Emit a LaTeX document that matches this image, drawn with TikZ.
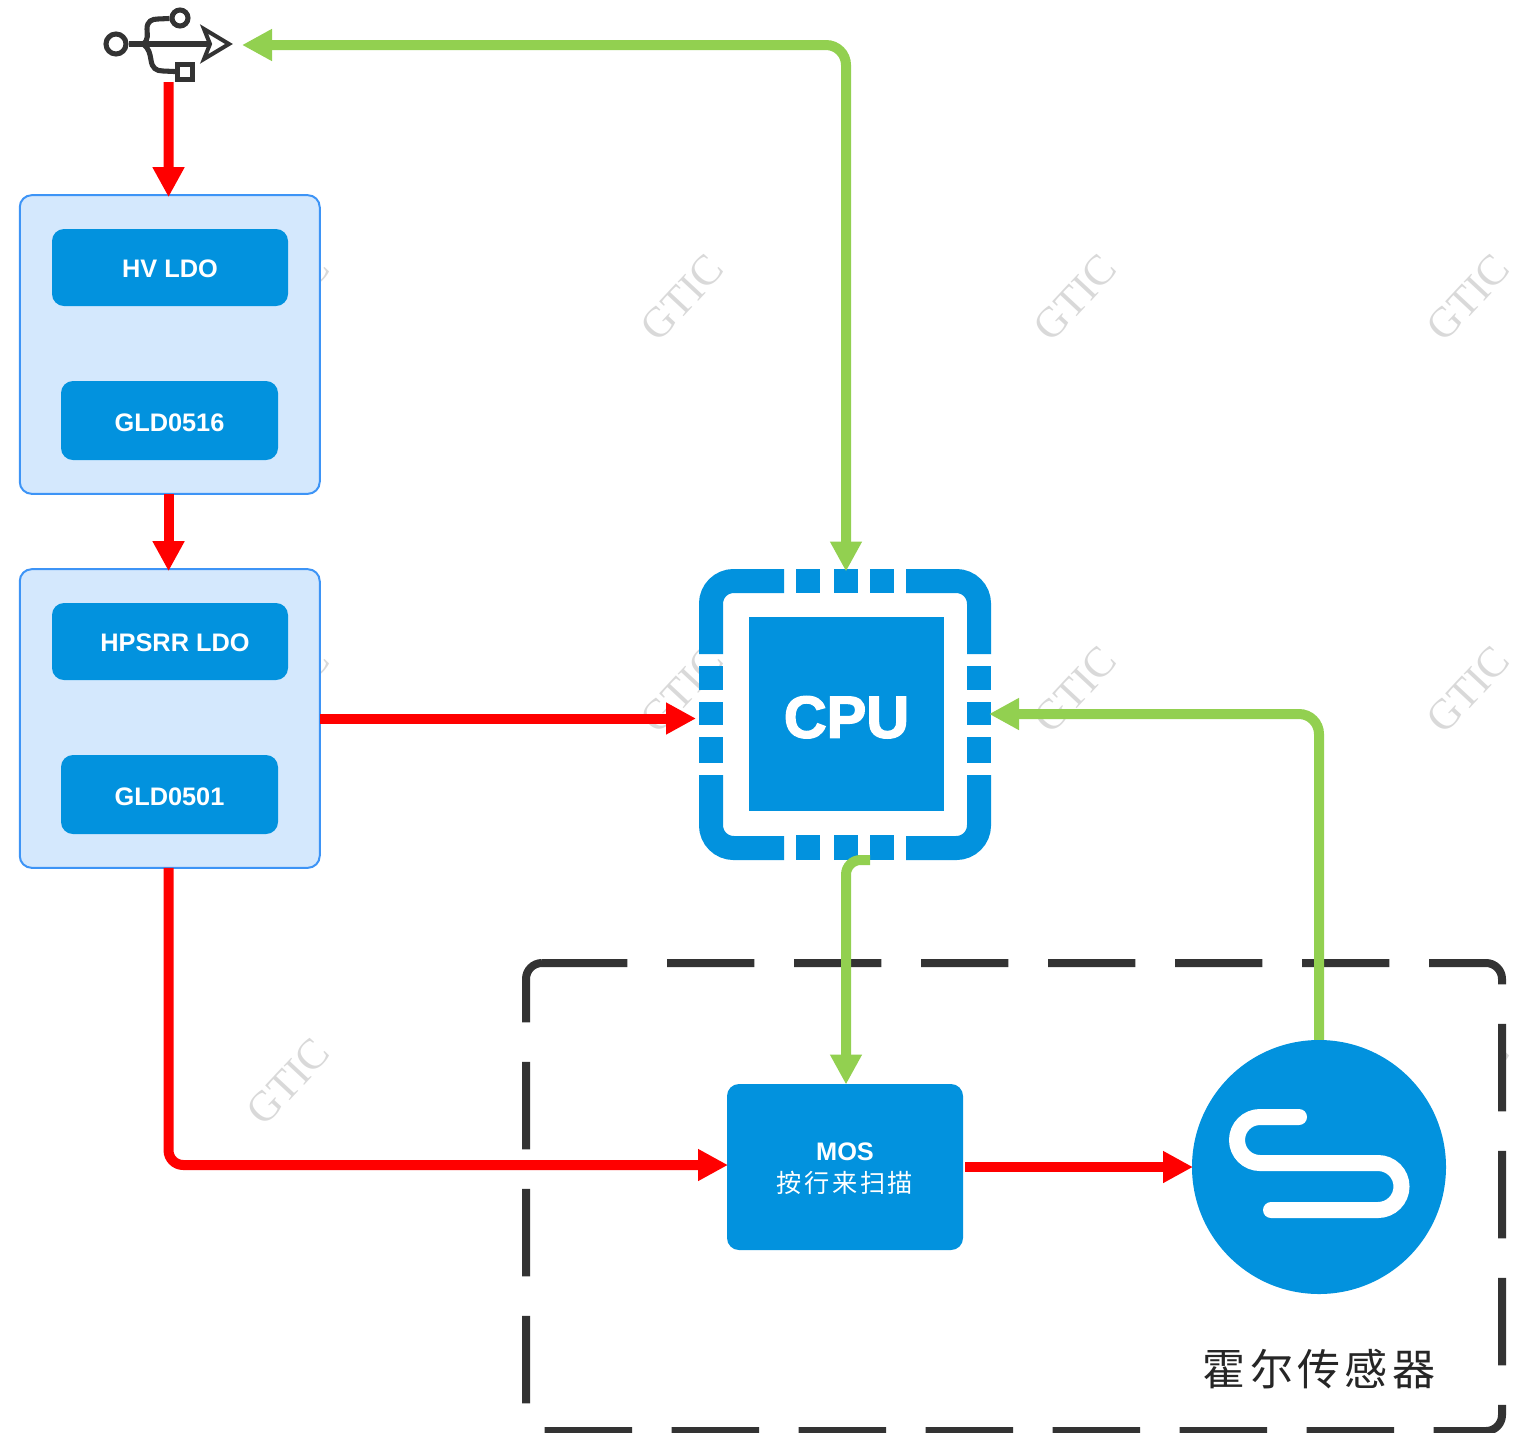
\documentclass[tikz,border=0pt]{standalone}
\usepackage{fontspec}
\usepackage{xcolor}
\usetikzlibrary{arrows.meta}
\setmainfont{Liberation Sans}
\newfontfamily\wmfont{Liberation Serif}
\newfontfamily\cpufont[FakeBold=2.5]{Liberation Sans Bold}
\newfontfamily\cjkfont[LetterSpace=10]{Noto Sans CJK SC}
\definecolor{chipblue}{HTML}{0292DE}
\definecolor{panelfill}{HTML}{D4E8FD}
\definecolor{panelline}{HTML}{3D94F6}
\definecolor{linkgreen}{HTML}{92D050}
\definecolor{darkline}{HTML}{333333}
\tikzset{
  panel/.style={draw=panelline,line width=1.5pt,fill=panelfill,rounded corners=9pt,minimum width=225pt,minimum height=224pt,inner sep=0pt,outer sep=0pt},
  ldobox/.style={fill=chipblue,text=white,rounded corners=9pt,inner sep=0pt,text depth=0pt,font=\fontsize{19}{23}\selectfont\bfseries},
  linktip/.style={arrows={-{Triangle[length=22.5pt,width=22.5pt]}},shorten >=-1.5pt},
  redlink/.style={draw=red,line width=7.5pt,linktip},
  greenlink/.style={draw=linkgreen,line width=7.5pt,linktip},
  chipline/.style={draw=chipblue,line width=18pt,rounded corners=17pt},
  usbline/.style={draw=darkline,line width=3.8pt},
  watermark/.style={rotate=47,text=black!15,font=\wmfont\fontsize{32}{32}\selectfont}
}
\begin{document}
\begin{tikzpicture}[x=0.75pt,y=0.75pt,yscale=-1,xscale=1]
    \useasboundingbox (0,0) rectangle (1523,1432);

    % Watermarks
    \foreach \wx in {288,682,1075,1468}
      \foreach \wy in {298,690,1082}
        \node [watermark] (wm\wx\wy) at (\wx,\wy) {GTIC};

    % Sensor group
    \draw [draw=darkline,fill=white,line width=6pt,rounded corners=12pt,dash pattern=on 65.6pt off 29.65pt,dash phase=1.5pt] (526,963) -- (1502,963) -- (1502,1431) -- (526,1431) -- cycle;

    % USB symbol
    \node [circle,usbline,minimum size=15pt,inner sep=0pt] (usbleft) at (116,44) {};
    \node [circle,usbline,minimum size=12pt,inner sep=0pt] (usbtop) at (180,18) {};
    \node [rectangle,usbline,minimum size=11pt,inner sep=0pt] (usbsquare) at (185,72) {};
    \coordinate (usbtip) at (229,44);
    \coordinate (usbout) at (244,45);
    \coordinate (usbdown) at (168.5,82);
    \coordinate (usbstem) at (210,44);
    \draw [usbline] (usbleft) -- (usbstem);
    \draw [usbline,line width=3pt,line join=miter] (204,29) -- (usbtip) -- (204,59) -- (usbstem) -- cycle;
    \draw [usbline] (143,44) .. controls (149,40) and (147,34) .. (147,29) .. controls (147,21) and (152,19) .. (158,19) -- (usbtop);
    \draw [usbline] (143,44) .. controls (149,48) and (150,54) .. (151,60) .. controls (152,68) and (156,71) .. (163,71) -- (usbsquare);

    % Power panels
    \node [panel] (panelone) at (169.75,344.5) {};
    \node [ldobox,text height=15.2pt,minimum width=177pt,minimum height=57.75pt] (hvldo) at (170,267.5) {HV LDO};
    \node [ldobox,text height=16pt,minimum width=162.75pt,minimum height=59.25pt] (gldone) at (169.5,420.5) {GLD0516};
    \node [panel] (paneltwo) at (169.75,718.5) {};
    \node [ldobox,text height=15.2pt,minimum width=177pt,minimum height=57.75pt] (hpsrr) at (170,641.5) {\hspace{7.5pt}HPSRR LDO};
    \node [ldobox,text height=16pt,minimum width=162.75pt,minimum height=59.25pt] (gldtwo) at (169.5,794.5) {GLD0501};

    % CPU chip
    \node [fill=chipblue,text=white,minimum width=146pt,minimum height=145.5pt,inner sep=0pt,text height=35.5pt,text depth=0pt,font=\cpufont\fontsize{44.5}{44}\selectfont] (cpu) at (846.5,714) {CPU};
    \draw [chipline] (784,581) -- (711,581) -- (711,654);
    \draw [chipline] (906,581) -- (979,581) -- (979,654);
    \draw [chipline] (784,848) -- (711,848) -- (711,775);
    \draw [chipline] (906,848) -- (979,848) -- (979,775);
    \foreach \px/\qx in {796/820,834/858,870/894} {
      \fill [chipblue] (\px,569) rectangle (\qx,593);
      \fill [chipblue] (\px,835) rectangle (\qx,860);
    }
    \foreach \py/\qy in {666/690,702/725,737/763} {
      \fill [chipblue] (699,\py) rectangle (723,\qy);
      \fill [chipblue] (967,\py) rectangle (991,\qy);
    }
    \coordinate (cputop) at (846,569.5);
    \coordinate (cpuleft) at (694,718.5);
    \coordinate (cpuright) at (991,714);
    \coordinate (cpubottom) at (870,860);

    % MOS and sensor
    \node [fill=chipblue,text=white,rounded corners=9pt,minimum width=177pt,minimum height=124.5pt,inner sep=0pt,align=center,font=\fontsize{19}{24}\selectfont] (mos) at (845,1167) {\rule{0pt}{16pt}\textbf{MOS}\\{\cjkfont\fontsize{18.9}{24}\selectfont 按行来扫描}};
    \node [circle,fill=chipblue,minimum size=190.5pt,inner sep=0pt] (sensor) at (1319,1167) {};
    \draw [draw=white,line width=12pt,line cap=round] (1299,1117) -- (1260,1117) arc (270:90:23) -- (1378,1163) arc (270:450:23.5) -- (1271,1210);
    \node [font=\cjkfont\fontsize{32.3}{33}\selectfont,text=black!85] (sensorlabel) at (1319,1369) {霍尔传感器};
    \coordinate (mosin) at (726,1165);
    \coordinate (sensorin) at (1191,1167);
    \coordinate (mosout) at (965,1167);
    \coordinate (mosup) at (846,1082.5);

    % Power links
    \draw [redlink] (usbdown) -- ([xshift=-0.9pt]panelone.north);
    \draw [redlink] ([xshift=-0.9pt]panelone.south) -- ([xshift=-0.9pt]paneltwo.north);
    \draw [redlink] (paneltwo.east) -- (cpuleft);
    \draw [redlink,rounded corners=11pt] ([xshift=-0.9pt]paneltwo.south) |- (mosin);
    \draw [redlink] (mosout) -- (sensorin);

    % Signal links
    \draw [greenlink,{Triangle[length=22.5pt,width=22.5pt]}-{Triangle[length=22.5pt,width=22.5pt]},shorten <=-1.5pt,rounded corners=15pt] (usbout) -| (cputop);
    \draw [greenlink,rounded corners=15pt] (sensor.north) |- (cpuright);
    \draw [greenlink,rounded corners=11pt] (cpubottom) -| (mosup);
\end{tikzpicture}
\end{document}
